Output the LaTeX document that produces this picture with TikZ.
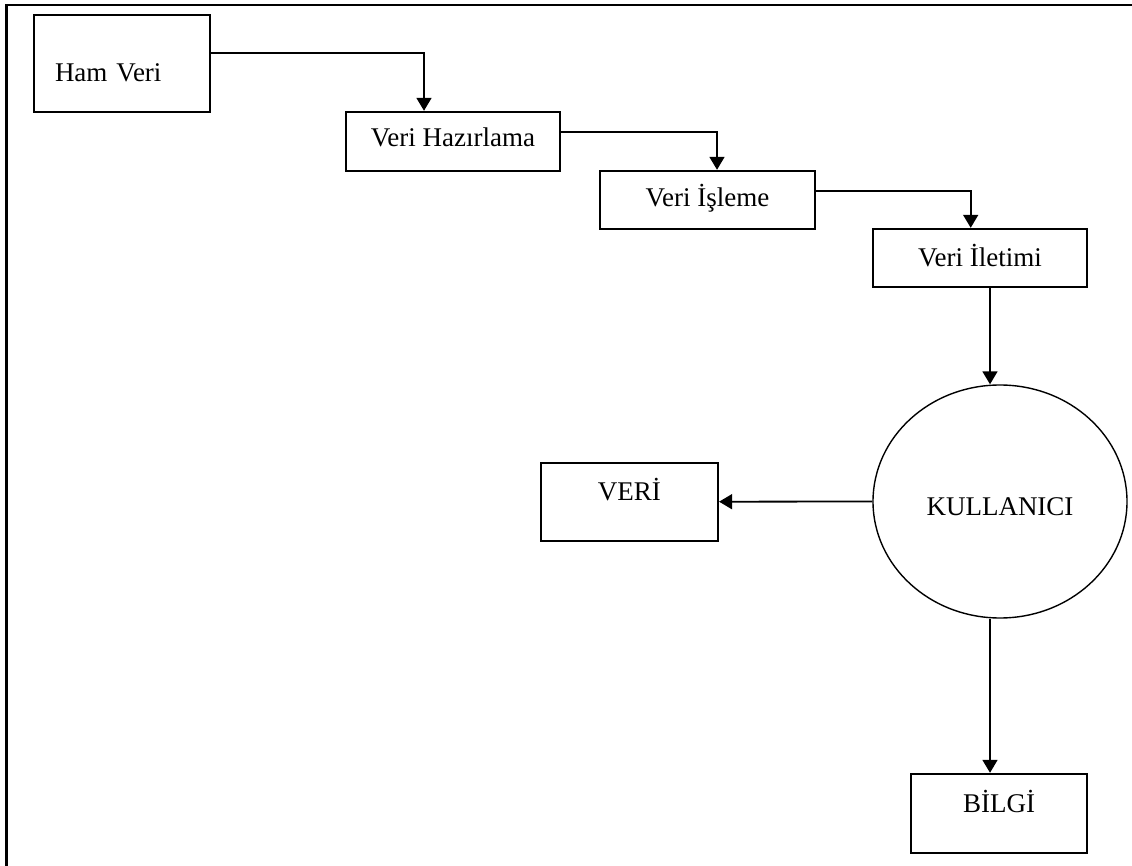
\documentclass[tikz,border=0pt]{standalone}
\usepackage{fontspec}
\setmainfont{Liberation Serif}
\usetikzlibrary{arrows.meta,shapes.geometric}

\begin{document}
\begin{tikzpicture}[
    x=1pt, y=-1pt,
    every node/.style={font=\fontsize{27}{31}\selectfont, text=black},
    stepbox/.style={draw, line width=2.4pt, rectangle, inner sep=0pt},
    userbubble/.style={draw, line width=1.4pt, ellipse, inner sep=0pt,
                       minimum width=254pt, minimum height=233pt},
    conn/.style={line width=1.8pt, -{Triangle[length=13pt,width=15pt]}},
    frame/.style={line width=2.6pt}
  ]
  \useasboundingbox (0,0) rectangle (1132,866);

  % outer frame (top and left edges only)
  \draw[frame] (6.5,866) -- (6.5,5) -- (1132,5);

  % processing chain
  \node[stepbox, inner xsep=21pt, text width=134pt, align=left,
        minimum height=97pt, text height=40pt, text depth=3pt]
        (ham) at (122,63.5) {Ham Veri};
  \node[stepbox, minimum width=214pt, minimum height=59pt,
        text height=17pt, text depth=6pt]
        (prep) at (453,141.5) {Veri Hazırlama};
  \node[stepbox, minimum width=215pt, minimum height=58pt,
        text height=18pt, text depth=4pt]
        (proc) at (707.5,200) {Veri İşleme};
  \node[stepbox, minimum width=214pt, minimum height=58pt,
        text height=18pt, text depth=0pt]
        (trans) at (980,258) {Veri İletimi};

  % user and outputs
  \node[userbubble, text height=27pt, text depth=0pt]
        (user) at (1000,501.5) {KULLANICI};
  \node[stepbox, minimum width=177pt, minimum height=78pt,
        text height=17pt, text depth=20.4pt]
        (veri) at (629.4,501.7) {VERİ};
  \node[stepbox, minimum width=176pt, minimum height=79pt,
        text height=17pt, text depth=20pt]
        (bilgi) at (999,813.5) {BİLGİ};

  % connectors
  \draw[conn] ([yshift=10.5pt]ham.east) -| ([xshift=-29pt]prep.north);
  \draw[conn] ([yshift=9.5pt]prep.east) -| ([xshift=9.5pt]proc.north);
  \draw[conn] ([yshift=9.3pt]proc.east) -| ([xshift=-9.3pt]trans.north);
  \draw[conn] ([xshift=10pt]trans.south) -- ([xshift=10pt]trans.south |- user.north);
  \draw[conn] (user.west) -- (veri.east);
  \draw[conn] ([xshift=-9pt]bilgi.north |- user.south) -- ([xshift=-9pt]bilgi.north);
\end{tikzpicture}
\end{document}
